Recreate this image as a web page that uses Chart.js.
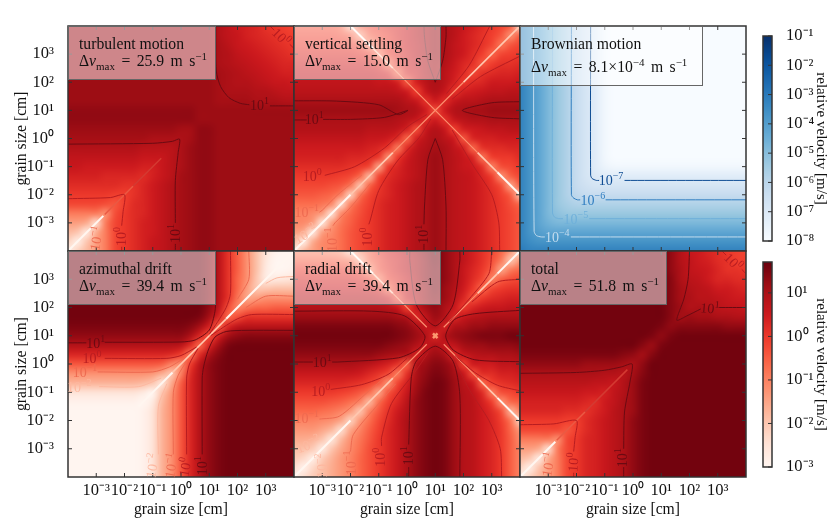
<!DOCTYPE html>
<html lang="en">
<head>
<meta charset="UTF-8" />
<title>Relative velocities</title>
<script src="https://cdn.jsdelivr.net/npm/chart.js"></script>
<style>
    body { margin: 0; background: #fff; width: 830px; height: 519px; overflow: hidden; position: relative; font-family: "Liberation Serif", serif; }
    canvas { position: absolute; }
    .note { position: absolute; box-sizing: border-box; background: rgba(255,255,255,0.5); border: 1px solid #666; color: #111; font-size: 15.7px; line-height: 17px; padding: 8px 0 0 10px; white-space: nowrap; }
    .note i { font-style: italic; }
    .note sub, .note sup { font-size: 70%; line-height: 0; }
    .note .dv { word-spacing: 2.5px; }
</style>
</head>
<body>
<script>
// log10 of grain size at each grid node (a = small, b = large grain)
const gridExponents = [-4,-3.67,-3.33,-3,-2.67,-2.33,-2,-1.67,-1.33,-1,-0.67,-0.33,0,0.33,0.67,1,1.33,1.67,2,2.33,2.67,3,3.33,3.67,4];
const tickExponents = [-3,-2,-1,0,1,2,3];

// each panel: 10*log10(velocity), row j holds the cut at large grain j, up to the diagonal
const turbulentRows = [
[-30],
[-22,-28],
[-18,-20,-27],
[-14,-14,-16,-24],
[-9,-9,-9,-9,-12],
[-2,-2,-2,-2,-3,-4],
[0,0,0,0,0,-1,-1],
[2,2,2,2,2,2,1,1],
[4,4,4,4,3,3,3,3,2],
[6,6,5,5,5,5,5,5,4,4],
[7,7,7,7,7,7,7,7,6,6,6],
[9,9,9,9,9,9,9,9,8,8,8,8],
[11,11,11,11,11,11,11,11,11,10,10,10,10],
[12,12,12,12,12,12,12,12,12,12,12,12,11,11],
[13,13,13,13,13,13,13,13,13,13,13,13,13,13,12],
[13,13,13,13,13,13,13,13,13,13,13,13,13,13,12,12],
[12,12,12,12,12,12,12,12,12,12,12,12,12,12,12,12,11],
[12,12,12,12,12,12,12,12,12,12,12,12,12,12,12,12,11,10],
[12,12,12,12,12,12,12,12,12,12,12,12,12,12,12,12,11,10,9],
[12,12,12,12,12,12,12,12,12,12,12,12,12,12,12,12,11,10,9,8],
[12,12,12,12,12,12,12,12,12,12,12,12,12,12,12,12,10,9,8,7,6],
[12,12,12,12,12,12,12,12,12,12,12,12,12,12,12,12,10,9,7,6,5,4],
[12,12,12,12,12,12,12,12,12,12,12,12,12,12,12,12,10,8,6,5,4,3,2],
[12,12,12,12,12,12,12,12,12,12,12,12,12,12,12,12,9,7,6,4,3,2,1,0],
[12,12,12,12,12,12,12,12,12,12,12,12,12,12,12,12,9,7,5,4,3,1,0,-1,-2]
];
const settlingRows = [
[-30],
[-18,-28],
[-14,-16,-27],
[-11,-11,-14,-26],
[-10,-10,-11,-14,-25],
[-7,-7,-7,-8,-11,-23],
[-4,-4,-4,-5,-6,-10,-22],
[-2,-2,-2,-2,-3,-4,-8,-20],
[0,0,0,0,0,-1,-2,-6,-18],
[2,2,2,2,2,2,1,0,-2,-15],
[4,4,4,4,4,4,3,3,2,0,-12],
[5,5,5,5,5,5,5,5,4,3,0,-9],
[7,7,7,7,7,7,7,7,6,6,5,2,-6],
[9,9,9,9,9,9,9,9,8,8,8,7,4,-3],
[10,10,10,10,10,10,10,10,10,10,10,9,8,6,2],
[12,12,12,12,12,12,12,12,12,12,12,11,10,9,5,-3],
[10,10,10,10,10,10,10,10,10,10,10,10,8,6,1,5,2],
[8,8,8,8,8,8,8,8,8,8,8,7,5,-1,6,9,6,1],
[7,7,7,7,7,7,7,7,7,6,6,4,-4,4,8,10,8,4,0],
[6,6,6,6,6,6,6,6,6,5,3,-6,3,5,9,11,8,5,2,-2],
[4,4,4,4,4,4,4,4,3,1,-8,1,4,6,9,11,9,6,3,1,-4],
[2,2,2,2,2,2,2,1,-1,-10,-1,2,4,7,10,12,10,7,5,2,-1,-6],
[0,0,0,0,0,0,-1,-3,-12,-3,0,2,5,7,10,12,10,7,5,3,1,-2,-8],
[-2,-2,-2,-2,-2,-3,-5,-15,-5,-2,0,3,5,8,10,12,10,8,5,3,1,-1,-4,-12],
[-4,-4,-4,-4,-4,-6,-20,-5,-2,0,2,3,5,8,10,12,10,8,6,4,2,0,-2,-5,-25]
];
const brownianRows = [
[-30],
[-32,-35],
[-32,-37,-40],
[-32,-37,-42,-46],
[-32,-37,-42,-48,-51],
[-32,-37,-42,-48,-53,-56],
[-32,-37,-42,-48,-53,-58,-61],
[-32,-37,-42,-48,-53,-58,-63,-66],
[-32,-37,-42,-48,-53,-58,-63,-68,-70],
[-32,-37,-42,-48,-53,-58,-63,-68,-72,-76],
[-32,-37,-42,-48,-53,-58,-63,-68,-72,-78,-80],
[-32,-37,-42,-48,-53,-58,-63,-68,-72,-78,-82,-85],
[-32,-37,-42,-48,-53,-58,-63,-68,-72,-78,-82,-85,-85],
[-32,-37,-42,-48,-53,-58,-63,-68,-72,-78,-82,-85,-85,-85],
[-32,-37,-42,-48,-53,-58,-63,-68,-72,-78,-82,-85,-85,-85,-85],
[-32,-37,-42,-48,-53,-58,-63,-68,-72,-78,-82,-85,-85,-85,-85,-85],
[-32,-37,-42,-48,-53,-58,-63,-68,-72,-78,-82,-85,-85,-85,-85,-85,-85],
[-32,-37,-42,-48,-53,-58,-63,-68,-72,-78,-82,-85,-85,-85,-85,-85,-85,-85],
[-32,-37,-42,-48,-53,-58,-63,-68,-72,-78,-82,-85,-85,-85,-85,-85,-85,-85,-85],
[-32,-37,-42,-48,-53,-58,-63,-68,-72,-78,-82,-85,-85,-85,-85,-85,-85,-85,-85,-85],
[-32,-37,-42,-48,-53,-58,-63,-68,-72,-78,-82,-85,-85,-85,-85,-85,-85,-85,-85,-85,-85],
[-32,-37,-42,-48,-53,-58,-63,-68,-72,-78,-82,-85,-85,-85,-85,-85,-85,-85,-85,-85,-85,-85],
[-32,-37,-42,-48,-53,-58,-63,-68,-72,-78,-82,-85,-85,-85,-85,-85,-85,-85,-85,-85,-85,-85,-85],
[-32,-37,-42,-48,-53,-58,-63,-68,-72,-78,-82,-85,-85,-85,-85,-85,-85,-85,-85,-85,-85,-85,-85,-85],
[-32,-37,-42,-48,-53,-58,-63,-68,-72,-78,-82,-85,-85,-85,-85,-85,-85,-85,-85,-85,-85,-85,-85,-85,-85]
];
const azimuthalRows = [
[-30],
[-30,-30],
[-30,-30,-30],
[-30,-30,-30,-30],
[-30,-30,-30,-30,-30],
[-30,-30,-30,-30,-30,-30],
[-30,-30,-30,-30,-30,-30,-30],
[-30,-30,-30,-30,-30,-30,-30,-30],
[-29,-29,-29,-29,-29,-29,-29,-29,-30],
[-25,-25,-25,-25,-25,-25,-25,-25,-27,-30],
[-17,-17,-17,-17,-17,-17,-17,-17,-18,-20,-26],
[-12,-12,-12,-12,-12,-12,-12,-12,-12,-13,-16,-20],
[-4,-4,-4,-4,-4,-4,-4,-4,-4,-4,-5,-10,-12],
[3,3,3,3,3,3,3,3,3,3,3,2,-1,-8],
[9,9,9,9,9,9,9,9,9,9,9,9,8,2,-6],
[13,13,13,13,13,13,13,13,13,13,13,13,13,10,3,-3],
[15,15,15,15,15,15,15,15,15,15,15,15,15,14,11,4,-5],
[16,16,16,16,16,16,16,16,16,16,16,16,16,16,15,11,3,-6],
[16,16,16,16,16,16,16,16,16,16,16,16,16,16,16,13,7,-3,-10],
[16,16,16,16,16,16,16,16,16,16,16,16,16,16,16,14,8,1,-8,-15],
[16,16,16,16,16,16,16,16,16,16,16,16,16,16,16,14,8,1,-6,-14,-20],
[16,16,16,16,16,16,16,16,16,16,16,16,16,16,16,14,8,1,-6,-12,-20,-27],
[16,16,16,16,16,16,16,16,16,16,16,16,16,16,16,14,8,1,-5,-12,-19,-27,-30],
[16,16,16,16,16,16,16,16,16,16,16,16,16,16,16,14,8,1,-5,-12,-19,-26,-30,-30],
[16,16,16,16,16,16,16,16,16,16,16,16,16,16,16,14,8,1,-5,-12,-19,-25,-29,-30,-30]
];
const radialRows = [
[-30],
[-24,-29],
[-21,-23,-28],
[-19,-19,-21,-27],
[-16,-16,-17,-20,-26],
[-13,-13,-13,-15,-18,-24],
[-10,-10,-10,-11,-12,-15,-22],
[-6,-6,-6,-7,-8,-10,-13,-20],
[-3,-3,-3,-3,-4,-5,-7,-10,-18],
[0,0,0,0,0,-1,-2,-4,-7,-15],
[3,3,3,3,3,3,2,1,-1,-4,-12],
[6,6,6,6,6,6,6,5,3,1,-2,-9],
[10,10,10,10,10,10,10,9,8,6,4,1,-5],
[13,13,13,13,13,13,13,13,13,12,11,10,9,4],
[15,15,15,15,15,15,15,15,15,15,14,13,12,9,6],
[16,16,16,16,16,16,16,16,16,16,16,15,14,12,9,3],
[15,15,15,15,15,15,15,15,15,15,15,14,13,10,6,9,4],
[12,12,12,12,12,12,12,12,12,12,12,11,9,3,7,12,9,3],
[9,9,9,9,9,9,9,9,9,9,8,6,-1,6,11,13,10,6,0],
[8,8,8,8,8,8,8,8,8,7,5,-3,5,8,12,14,12,8,3,-3],
[5,5,5,5,5,5,5,5,4,2,-6,2,5,9,12,15,12,9,5,0,-6],
[3,3,3,3,3,3,3,2,-1,-9,-1,2,5,9,13,15,13,10,6,2,-2,-10],
[0,0,0,0,0,0,-1,-3,-12,-3,1,4,7,10,13,15,13,10,6,3,0,-5,-15],
[-5,-5,-5,-5,-5,-6,-8,-17,-6,-2,2,4,7,10,13,16,13,10,7,4,1,-3,-9,-20],
[-10,-10,-10,-10,-11,-13,-22,-10,-5,0,3,5,8,11,14,16,13,10,7,4,1,-2,-6,-13,-25]
];
const totalRows = [
[-30],
[-22,-28],
[-18,-20,-27],
[-14,-14,-16,-24],
[-9,-9,-9,-9,-12],
[-2,-2,-2,-2,-2,-4],
[0,0,0,0,0,-1,-1],
[3,3,3,3,3,2,2,1],
[4,4,4,4,4,4,4,3,2],
[6,6,6,6,6,6,6,5,5,4],
[8,8,8,8,8,8,8,8,7,7,6],
[10,10,10,10,10,10,10,10,10,9,9,8],
[13,13,13,13,13,13,13,12,12,12,12,11,10],
[15,15,15,15,15,15,15,15,15,15,15,14,13,11],
[16,16,16,16,16,16,16,16,16,16,16,16,16,14,12],
[16,16,16,16,16,16,16,16,16,16,16,16,16,16,15,13],
[16,16,16,16,16,16,16,16,16,16,16,16,16,16,16,15,13],
[16,16,16,16,16,16,16,16,16,16,16,16,16,16,16,16,14,11],
[16,16,16,16,16,16,16,16,16,16,16,16,16,16,16,16,14,12,9],
[16,16,16,16,16,16,16,16,16,16,16,16,16,16,16,16,14,11,10,8],
[16,16,16,16,16,16,16,16,16,16,16,16,16,16,16,16,14,11,9,8,7],
[16,16,16,16,16,16,16,16,16,16,16,16,16,16,16,16,14,10,8,7,5,3],
[16,16,16,16,16,16,16,16,16,16,16,16,16,16,16,16,13,10,7,6,5,3,1],
[16,16,16,16,16,16,16,16,16,16,16,16,16,16,16,16,13,9,7,5,4,2,1,-1],
[16,16,16,16,16,16,16,16,16,16,16,16,16,16,16,16,13,9,6,5,3,2,0,-1,-2]
];

// colour bars: the levels that fill them
const blueBarLevels = [-8,-7.5,-7,-6.5,-6,-5.5,-5,-4.5,-4,-3.5,-3,-2.5,-2,-1.5,-1];
const redBarLevels = [-3,-2.75,-2.5,-2.25,-2,-1.75,-1.5,-1.25,-1,-0.75,-0.5,-0.25,0,0.25,0.5,0.75,1,1.25,1.5,1.75];
const blueBarTicks = [-8,-7,-6,-5,-4,-3,-2,-1];
const redBarTicks = [-3,-2,-1,0,1];

// contour lines: [level, [x,y], [x,y], ...] in log10 grain size
const turbulentContours = [
[1,[-4,-0.2],[-1,-0.17],[-0.3,-0.1],[-0.05,-0.02],[-0.1,-0.5],[-0.2,-1.5],[-0.2,-3]],
[1,[-0.2,-3.75],[-0.2,-4]],
[1,[1.23,4],[1.25,2.4],[1.4,1.85],[1.7,1.45],[2.1,1.25],[2.42,1.2]],
[1,[3.15,1.16],[4,1.16]],
[0,[-4,-2.14],[-2.5,-2.1],[-2,-2],[-2.05,-2.6],[-2.1,-3.1]],
[0,[-2.1,-3.85],[-2.1,-4]],
[0,[3.15,4],[3.3,3.85]],
[0,[3.85,3.35],[4,3.2]]
];
const settlingContours = [
[1,[-4,1.34],[-2.5,1.33],[-1,1.2],[-0.3,0.85],[0.03,1],[-0.8,0.75],[-2,0.68],[-2.97,0.68]],
[1,[-4,0.66],[-3.55,0.66]],
[1,[4,1.31],[3,1.27],[1.96,1],[3,0.75],[4,0.7]],
[1,[1,0],[0.74,-0.75],[0.62,-2.4],[0.6,-3.05]],
[1,[0.6,-3.75],[0.6,-4]],
[1,[1,0],[1.26,-0.75],[1.38,-2.4],[1.38,-4]],
[1,[1,2],[0.74,2.75],[0.62,3.6],[0.6,4]],
[1,[1,2],[1.26,2.75],[1.38,3.6],[1.38,4]],
[0,[-2.91,-1.31],[-1.85,-1],[-0.8,-0.34],[0.03,0.43],[0.7,0.85]],
[0,[-1.35,-3.05],[-1.3,-2.9],[-1,-1.85],[-0.34,-0.8],[0.43,0.03],[0.85,0.7]],
[0,[3.28,-4],[3.25,-3],[3,-2],[2.3,-0.9],[1.6,0.3]],
[0,[2.93,4],[2.2,2.6],[1.4,1.6]],
[0,[4,2.93],[2.6,2.2],[1.6,1.4]],
[-1,[-2.62,-3.1],[-2.55,-3],[-2,-2.45],[-1.3,-1.6]],
[-1,[-3.1,-2.62],[-3,-2.55],[-2.45,-2],[-1.6,-1.3]]
];
const brownianContours = [
[-7,[-1.5,4],[-1.5,-1.3],[-1.45,-1.42],[-1.3,-1.49],[-1.2,-1.49]],
[-7,[-0.3,-1.49],[4,-1.49]],
[-6,[-2.18,4],[-2.18,-2],[-2.1,-2.12],[-1.97,-2.18],[-1.87,-2.18]],
[-6,[-0.97,-2.18],[4,-2.18]],
[-5,[-2.85,4],[-2.85,-2.65],[-2.77,-2.8],[-2.63,-2.85],[-2.48,-2.85]],
[-5,[-1.55,-2.85],[4,-2.85]],
[-4,[-3.52,4],[-3.5,-3.3],[-3.42,-3.45],[-3.25,-3.5],[-3.12,-3.5]],
[-4,[-2.2,-3.5],[4,-3.5]]
];
const azimuthalContours = [
[1,[0.75,-3.2],[0.75,-0.5],[0.8,-0.1],[0.95,0.45],[1.2,0.95],[1.6,1.15],[2.3,1.19],[4,1.19]],
[1,[-4,0.75],[-3.35,0.75]],
[1,[-2.7,0.77],[0,0.78],[0.5,0.85],[1,1.2],[1.2,1.85],[1.23,2.4],[1.23,4]],
[0,[0.2,-3.2],[0.2,-0.5],[0.3,0],[0.6,0.55]],
[0,[-2.7,0.2],[-0.5,0.2],[0,0.3],[0.55,0.6]],
[0,[1.75,4],[1.75,2.5],[1.6,2],[1.3,1.5],[1,1.05]],
[0,[4,1.75],[2.5,1.75],[2,1.6],[1.5,1.3],[1.05,1]],
[-1,[-0.27,-3.2],[-0.27,-1],[-0.1,-0.4],[0.2,0.1]],
[-1,[-2.95,-0.28],[-1,-0.28],[-0.4,-0.1],[0.1,0.2]],
[-1,[2.4,4],[2.4,3],[2,2.3]],
[-1,[4,2.4],[3,2.4],[2.3,2]],
[-2,[-0.8,-3.2],[-0.8,-1.5],[-0.5,-0.7]],
[-2,[-2.9,-0.8],[-1.5,-0.8],[-0.7,-0.5]],
[-2,[4,3.1],[3.4,3.05],[3,2.85]]
];
const radialContours = [
[1,[0.06,-2.85],[0.15,-0.5],[0.33,0.1],[1,0.63],[1.63,0.1],[1.87,-1.1],[1.87,-4]],
[1,[0.06,-3.65],[0.06,-4]],
[1,[4,1.9],[2.4,1.78],[1.69,1.58],[1.37,1],[1.63,0.5],[2.4,0.15],[4,0.08]],
[1,[-4,1.87],[-1.26,1.87],[-0.08,1.7],[0.63,1],[0.45,0.57],[-0.3,0.22],[-2.45,0.07],[-2.65,0.07]],
[1,[-4,0.07],[-3.33,0.07]],
[1,[0.1,4],[0.1,3.65],[0.33,2.1],[1,1.35],[1.63,2.1],[1.87,3.65],[1.87,4]],
[0,[-0.9,-2.9],[-0.9,-2.6],[-0.55,-1.4],[0.27,-0.3],[0.75,0.4]],
[0,[-2.7,-0.9],[-1.6,-0.73],[-0.67,-0.37],[0,0.2]],
[0,[3.35,-4],[3.3,-3],[2.9,-2],[2.2,-0.9],[1.6,0.3]],
[0,[4,-0.95],[3.2,-0.75],[2.4,-0.3],[1.7,0.3]],
[0,[3,4],[2.9,3.2],[2.2,2.3],[1.5,1.5]],
[0,[4,3],[3.2,2.9],[2.3,2.2]],
[-1,[-2,-3.1],[-1.9,-2.5],[-1,-1.4],[-0.4,-0.7]],
[-1,[-3.1,-1.95],[-2.4,-1.85],[-1.4,-1],[-0.7,-0.4]]
];
const totalContours = [
[1,[-4,-0.33],[-2,-0.3],[-1,-0.22],[-0.4,-0.1],[-0.03,0],[-0.1,-0.6],[-0.3,-1.7],[-0.33,-3]],
[1,[-0.33,-3.65],[-0.33,-4]],
[1,[2,4],[1.95,3],[1.8,2.3],[1.55,1.55],[1.9,1.7],[2.4,1.95]],
[1,[3.05,2],[4,2]],
[0,[-4,-2.15],[-2.8,-2.12],[-2,-2],[-2.05,-2.6],[-2.1,-3.1]],
[0,[-2.1,-3.85],[-2.1,-4]],
[0,[3.15,4],[3.3,3.85]],
[0,[3.85,3.35],[4,3.2]]
];

// light streaks along the zero-velocity lines: [colour tag, [x,y], [x,y]]
const turbulentStreaks = [
['white',[-4,-4],[-2.75,-2.75]],
['red',[-2.7,-2.7],[-1.7,-1.7]],['soft',[-1.7,-1.7],[-0.7,-0.7]]
];
const settlingStreaks = [
['white',[-4,-4],[-2,-2]],['pale',[-2,-2],[-0.5,-0.5]],['pink',[-0.5,-0.5],[2,2]],['pale',[2,2],[4,4]],
['pink',[1,1],[2.5,-0.5]],['pale',[2.5,-0.5],[3.2,-1.2]],['white',[3.2,-1.2],[4,-2]],
['pink',[1,1],[-0.5,2.5]],['pale',[-0.5,2.5],[-1.2,3.2]],['white',[-1.2,3.2],[-2,4]]
];
const brownianStreaks = [];
const azimuthalStreaks = [
['white',[-1.5,-1.5],[-0.3,-0.3]],['pale',[-0.3,-0.3],[1,1]],['pale',[1,1],[1.6,1.6]],['white',[1.6,1.6],[4,4]]
];
const radialStreaks = [
['white',[-4,-4],[-2,-2]],['pale',[-2,-2],[-0.5,-0.5]],['pink',[-0.5,-0.5],[0.7,0.7]],
['pink',[1.3,1.3],[2.5,2.5]],['pale',[2.5,2.5],[3.2,3.2]],['white',[3.2,3.2],[4,4]],
['pink',[1.3,0.7],[2.5,-0.5]],['pale',[2.5,-0.5],[3.2,-1.2]],['white',[3.2,-1.2],[4,-2]],
['pink',[0.7,1.3],[-0.5,2.5]],['pale',[-0.5,2.5],[-1.2,3.2]],['white',[-1.2,3.2],[-2,4]],
['star',[0.92,0.92],[1.08,1.08]],['star',[0.92,1.08],[1.08,0.92]]
];
const totalStreaks = [
['white',[-4,-4],[-2.75,-2.75]],
['red',[-2.7,-2.7],[-1.7,-1.7]],['soft',[-1.7,-1.7],[-0.2,-0.2]]
];

// contour labels: [level, x, y, rotation in degrees]
const turbulentLabels = [[1,2.78,1.18,0],[1,-0.22,-3.38,-90],[0,-2.12,-3.48,-90],[-1,-3,-3.55,-80],[0,3.55,3.62,45]];
const settlingLabels = [[1,-3.28,0.68,0],[0,-3.35,-1.33,0],[-1,-3.55,-2.62,0],[1,0.58,-3.4,-90],[0,-1.4,-3.5,-90],[-1,-2.65,-3.6,-90],[-2,-3.6,-3.4,-30]];
const brownianLabels = [[-7,-0.78,-1.49,0],[-6,-1.42,-2.18,0],[-5,-2.02,-2.85,0],[-4,-2.68,-3.5,0]];
const azimuthalLabels = [[1,-3.02,0.75,0],[0,-3.15,0.2,0],[-1,-3.4,-0.3,0],[-2,-3.6,-0.8,0],[1,0.73,-3.6,-90],[0,0.14,-3.65,-80],[-1,-0.35,-3.6,-80],[-2,-1.02,-3.6,-80]];
const radialLabels = [[1,-3,0.07,0],[0,-3.05,-0.95,0],[-1,-3.55,-1.9,0],[-2,-3.5,-2.85,-20],[1,0.05,-3.25,-90],[0,-0.95,-3.3,-90],[-1,-2,-3.5,-90],[-2,-3,-3.6,-90]];
const totalLabels = [[1,2.72,1.98,5],[1,-0.38,-3.32,-90],[0,-2.12,-3.48,-85],[-1,-3,-3.55,-80],[0,3.55,3.62,45]];

// titles of the panels
const panelNames = ['turbulent motion','vertical settling','Brownian motion','azimuthal drift','radial drift','total'];
const panelMaxima = ['25.9','15.0','8.1×10<sup>−4</sup>','39.4','39.4','51.8'];

const reds = [[255,245,240],[254,224,210],[252,187,161],[252,146,114],[251,106,74],[239,59,44],[203,24,29],[165,15,21],[103,0,13]];
const blues = [[247,251,255],[222,235,247],[198,219,239],[158,202,225],[107,174,214],[66,146,198],[33,113,181],[8,81,156],[8,48,107]];
const redRange = [-3, 1.71];
const blueRange = [-8, -1];

const contourColors = { '1':'#6a0a12', '0':'#b81c20', '-1':'#ee6a50', '-2':'#fdb8a0', '-4':'#c3dcee', '-5':'#6fb0da', '-6':'#2f7dc0', '-7':'#0f4d94' };
const streakStyles = { white:['#fff6f0',2], pale:['#ffc8b0',1.7], pink:['#fc9070',1.2], red:['#ea5a44',1.5], soft:['#d43a32',1.5], star:['#fb9a70',2.5] };
const serif = '"Liberation Serif", serif';
const supers = { '-':'⁻', '0':'⁰', '1':'¹', '2':'²', '3':'³', '4':'⁴', '5':'⁵', '6':'⁶', '7':'⁷', '8':'⁸' };

function powerLabel(e) {
    return '10' + String(e).split('').map(c => supers[c]).join('');
}

function mapColor(stops, range, v) {
    let t = (v - range[0]) / (range[1] - range[0]);
    t = Math.max(0, Math.min(1, t)) * (stops.length - 1);
    const k = Math.min(Math.floor(t), stops.length - 2);
    const f = t - k;
    return stops[k].map((c, n) => Math.round(c + (stops[k + 1][n] - c) * f));
}

// the matrix is symmetric in the two grain sizes, so the rows fill both sides
function buildCells(rows) {
    const cells = [];
    gridExponents.forEach((y, j) => {
        gridExponents.forEach((x, i) => {
            const v = i <= j ? rows[j][i] : rows[i][j];
            cells.push({ x, y, v: v / 10 });
        });
    });
    return cells;
}

// paints dataset 0 as a smooth image, using where the scales put its points
function heatLayer(stops, range, nx, ny) {
    return {
        id: 'heatLayer',
        beforeDatasetsDraw(chart) {
            const ctx = chart.ctx;
            const area = chart.chartArea;
            const pts = chart.getDatasetMeta(0).data;
            const cells = chart.data.datasets[0].data;
            const off = document.createElement('canvas');
            off.width = nx;
            off.height = ny;
            const octx = off.getContext('2d');
            const img = octx.createImageData(nx, ny);
            cells.forEach((c, k) => {
                const col = k % nx;
                const row = ny - 1 - Math.floor(k / nx);
                const rgb = mapColor(stops, range, c.v);
                const p = (row * nx + col) * 4;
                img.data[p] = rgb[0]; img.data[p + 1] = rgb[1]; img.data[p + 2] = rgb[2]; img.data[p + 3] = 255;
            });
            octx.putImageData(img, 0, 0);
            const first = pts[0];
            const last = pts[pts.length - 1];
            const dx = nx > 1 ? (last.x - first.x) / (nx - 1) : area.width;
            const dy = (first.y - last.y) / (ny - 1);
            const left = nx > 1 ? first.x - dx / 2 : area.left;
            ctx.save();
            ctx.beginPath();
            ctx.rect(area.left, area.top, area.width, area.height);
            ctx.clip();
            ctx.imageSmoothingEnabled = true;
            ctx.imageSmoothingQuality = 'high';
            ctx.drawImage(off, left, last.y - dy / 2, dx * nx, dy * ny);
            ctx.restore();
        }
    };
}

function frameLayer(allSides) {
    return {
        id: 'frameLayer',
        afterDatasetsDraw(chart) {
            const ctx = chart.ctx;
            const a = chart.chartArea;
            ctx.save();
            ctx.strokeStyle = '#333';
            ctx.lineWidth = 1;
            ctx.beginPath();
            chart.scales.y.ticks.forEach(t => {
                const y = chart.scales.y.getPixelForValue(t.value);
                if (allSides) { ctx.moveTo(a.left, y); ctx.lineTo(a.left + 4, y); }
                ctx.moveTo(a.right, y); ctx.lineTo(a.right - 4, y);
            });
            if (allSides) {
                chart.scales.x.ticks.forEach(t => {
                    const x = chart.scales.x.getPixelForValue(t.value);
                    ctx.moveTo(x, a.top); ctx.lineTo(x, a.top + 4);
                    ctx.moveTo(x, a.bottom); ctx.lineTo(x, a.bottom - 4);
                });
            }
            ctx.stroke();
            ctx.lineWidth = 1.5;
            ctx.strokeRect(a.left, a.top, a.width, a.height);
            ctx.restore();
        }
    };
}

function labelLayer(labels) {
    return {
        id: 'labelLayer',
        afterDatasetsDraw(chart) {
            const ctx = chart.ctx;
            labels.forEach(([level, x, y, rot]) => {
                const exp = String(level).replace('-', '−');
                ctx.save();
                ctx.translate(chart.scales.x.getPixelForValue(x), chart.scales.y.getPixelForValue(y));
                ctx.rotate(rot * Math.PI / 180);
                ctx.fillStyle = contourColors[level];
                ctx.textBaseline = 'alphabetic';
                ctx.font = '14px ' + serif;
                const w1 = ctx.measureText('10').width;
                ctx.font = '10px ' + serif;
                const w2 = ctx.measureText(exp).width;
                ctx.fillText(exp, (w1 - w2) / 2, -1);
                ctx.font = '14px ' + serif;
                ctx.fillText('10', -(w1 + w2) / 2, 5);
                ctx.restore();
            });
        }
    };
}

function makeCanvas(left, top, width, height) {
    const c = document.createElement('canvas');
    c.width = width;
    c.height = height;
    c.style.left = left + 'px';
    c.style.top = top + 'px';
    document.body.appendChild(c);
    return c;
}

function noOverhang(axis) {
    axis.paddingLeft = 0;
    axis.paddingRight = 0;
    axis.paddingTop = 0;
    axis.paddingBottom = 0;
}

function makePanel(spec) {
    const { left, top, width, height, rows, contours, streaks, labels, showX, showY, stops, range } = spec;
    const marginL = showY ? 60 : 3;
    const marginB = showX ? 41 : 3;
    const canvas = makeCanvas(left - marginL, top - 3, marginL + width + 3, 3 + height + marginB);
    const lineSets = contours.map(([level, ...pts]) => ({
        data: pts.map(([x, y]) => ({ x, y })),
        showLine: true, pointRadius: 0, tension: 0.25,
        borderColor: contourColors[level], borderWidth: 1, order: 0
    }));
    const streakSets = streaks.map(([tag, ...pts]) => ({
        data: pts.map(([x, y]) => ({ x, y })),
        showLine: true, pointRadius: 0,
        borderColor: streakStyles[tag][0], borderWidth: streakStyles[tag][1], order: 1
    }));
    new Chart(canvas, {
        type: 'scatter',
        data: { datasets: [{ data: buildCells(rows), pointRadius: 0, order: 2 }, ...lineSets, ...streakSets] },
        options: {
            responsive: false,
            animation: false,
            events: [],
            layout: { padding: { top: 3, right: 3 } },
            plugins: { legend: { display: false }, tooltip: { enabled: false } },
            scales: {
                x: {
                    type: 'linear', min: -4, max: 4,
                    afterBuildTicks: axis => { axis.ticks = tickExponents.map(value => ({ value })); },
                    afterFit: axis => { axis.height = marginB; noOverhang(axis); },
                    grid: { display: false }, border: { display: false },
                    ticks: { display: showX, autoSkip: false, maxRotation: 0, padding: -4, color: '#111', font: { family: serif, size: 16.5 }, callback: v => powerLabel(v) },
                    title: { display: showX, text: 'grain size [cm]', color: '#111', font: { family: serif, size: 15.7 }, padding: { top: 0, bottom: -1 } }
                },
                y: {
                    type: 'linear', min: -4, max: 4,
                    afterBuildTicks: axis => { axis.ticks = tickExponents.map(value => ({ value })); },
                    afterFit: axis => { axis.width = marginL; noOverhang(axis); },
                    grid: { display: false }, border: { display: false },
                    ticks: { display: showY, autoSkip: false, padding: 6, color: '#111', font: { family: serif, size: 16.5 }, callback: v => powerLabel(v) },
                    title: { display: showY, text: 'grain size [cm]', color: '#111', font: { family: serif, size: 15.7 }, padding: { top: 4, bottom: 0 } }
                }
            }
        },
        plugins: [heatLayer(stops, range, gridExponents.length, gridExponents.length), frameLayer(true), labelLayer(labels)]
    });
}

function makeColorbar(top, height, levels, ticks, stops, range) {
    const canvas = makeCanvas(760, top - 12, 70, height + 24);
    new Chart(canvas, {
        type: 'scatter',
        data: { datasets: [{ data: levels.map(v => ({ x: 0.5, y: v, v })), pointRadius: 0 }] },
        options: {
            responsive: false,
            animation: false,
            events: [],
            layout: { padding: { top: 12, bottom: 12, left: 3 } },
            plugins: { legend: { display: false }, tooltip: { enabled: false } },
            scales: {
                x: { type: 'linear', min: 0, max: 1, display: false },
                y: {
                    type: 'linear', position: 'right', min: range[0], max: range[1],
                    afterBuildTicks: axis => { axis.ticks = ticks.map(value => ({ value })); },
                    afterFit: axis => { axis.width = 58; noOverhang(axis); },
                    grid: { display: false }, border: { display: false },
                    ticks: { autoSkip: false, padding: 6, color: '#111', font: { family: serif, size: 16.5 }, callback: v => powerLabel(v) },
                    title: { display: true, text: 'relative velocity [m/s]', color: '#111', font: { family: serif, size: 15 }, padding: { top: 0, bottom: 3 } }
                }
            }
        },
        plugins: [heatLayer(stops, range, 1, levels.length), frameLayer(false)]
    });
}

function addNote(k, left, top, width, height, tall) {
    const d = document.createElement('div');
    d.className = 'note';
    d.style.cssText = `left:${left}px;top:${top}px;width:${width}px;height:${height}px;` + (tall ? 'line-height:23px;padding-top:5px;' : '');
    d.innerHTML = `${panelNames[k]}<br><span class="dv">Δ<i>v</i><sub>max</sub> = ${panelMaxima[k]} m s<sup>−1</sup></span>`;
    document.body.appendChild(d);
}

const xEdges = [68, 294, 520];
const yEdges = [26, 251];
const panelWidth = 226;
const panelHeights = [225, 226];

makePanel({ left: xEdges[0], top: yEdges[0], width: panelWidth, height: panelHeights[0], rows: turbulentRows, contours: turbulentContours, streaks: turbulentStreaks, labels: turbulentLabels, showX: false, showY: true, stops: reds, range: redRange });
makePanel({ left: xEdges[1], top: yEdges[0], width: panelWidth, height: panelHeights[0], rows: settlingRows, contours: settlingContours, streaks: settlingStreaks, labels: settlingLabels, showX: false, showY: false, stops: reds, range: redRange });
makePanel({ left: xEdges[2], top: yEdges[0], width: panelWidth, height: panelHeights[0], rows: brownianRows, contours: brownianContours, streaks: brownianStreaks, labels: brownianLabels, showX: false, showY: false, stops: blues, range: blueRange });
makePanel({ left: xEdges[0], top: yEdges[1], width: panelWidth, height: panelHeights[1], rows: azimuthalRows, contours: azimuthalContours, streaks: azimuthalStreaks, labels: azimuthalLabels, showX: true, showY: true, stops: reds, range: redRange });
makePanel({ left: xEdges[1], top: yEdges[1], width: panelWidth, height: panelHeights[1], rows: radialRows, contours: radialContours, streaks: radialStreaks, labels: radialLabels, showX: true, showY: false, stops: reds, range: redRange });
makePanel({ left: xEdges[2], top: yEdges[1], width: panelWidth, height: panelHeights[1], rows: totalRows, contours: totalContours, streaks: totalStreaks, labels: totalLabels, showX: true, showY: false, stops: reds, range: redRange });

makeColorbar(36, 205, blueBarLevels, blueBarTicks, blues, blueRange);
makeColorbar(262, 205, redBarLevels, redBarTicks, reds, redRange);

addNote(0, 68, 26, 148, 54);
addNote(1, 294, 26, 147, 54);
addNote(2, 520, 26, 183, 60, true);
addNote(3, 68, 251, 148, 54);
addNote(4, 294, 251, 147, 54);
addNote(5, 520, 251, 147, 54);
</script>
</body>
</html>
